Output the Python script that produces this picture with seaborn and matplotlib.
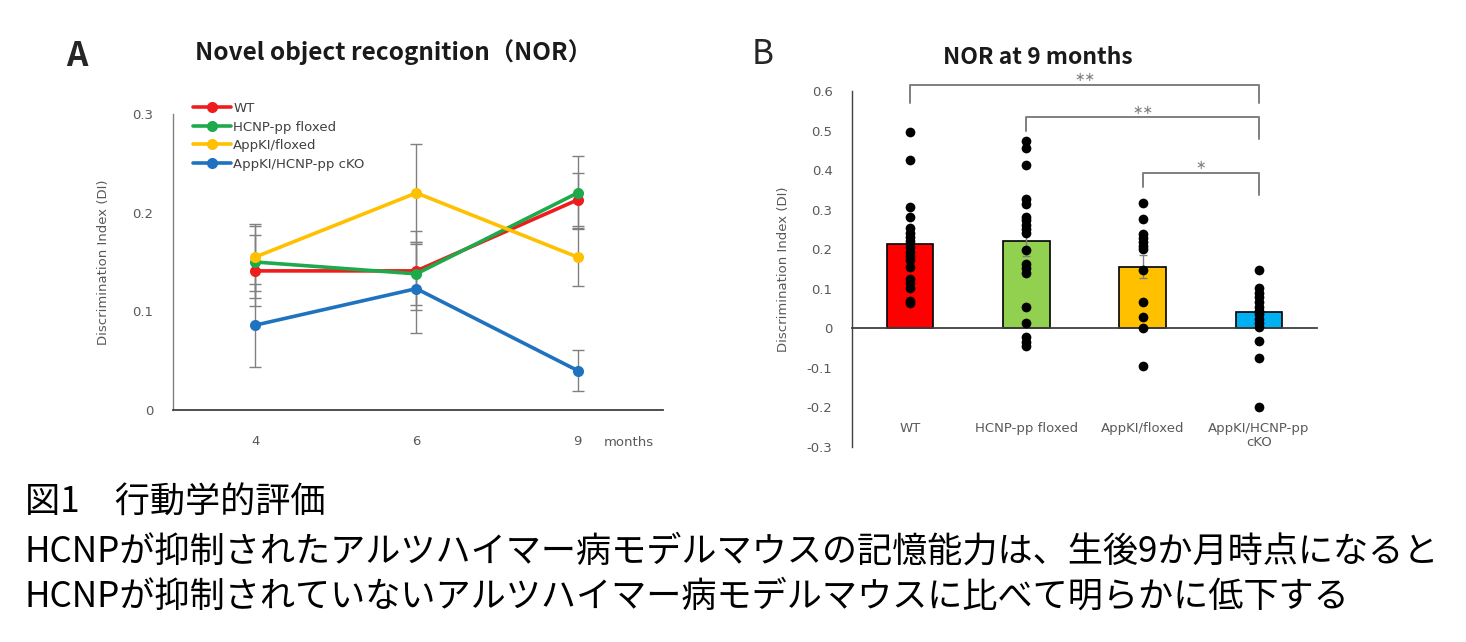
import numpy as np
import pandas as pd
import matplotlib
matplotlib.use("Agg")
import matplotlib.pyplot as plt
import seaborn as sns

# ---------------- data ----------------
months = ["4", "6", "9"]
groups_a = ["WT", "HCNP-pp floxed", "AppKI/floxed", "AppKI/HCNP-pp cKO"]
mean_wt = [0.141, 0.141, 0.213]
mean_hcnp = [0.150, 0.138, 0.220]
mean_appki = [0.155, 0.220, 0.155]
mean_cko = [0.086, 0.123, 0.040]
sem_wt = [0.036, 0.040, 0.027]
sem_hcnp = [0.036, 0.032, 0.037]
sem_appki = [0.034, 0.050, 0.029]
sem_cko = [0.042, 0.045, 0.021]

groups_b = ["WT", "HCNP-pp floxed", "AppKI/floxed", "AppKI/HCNP-pp\ncKO"]
bar_means = [0.213, 0.220, 0.156, 0.041]
bar_sems = [0.027, 0.037, 0.029, 0.021]
dots_wt = [0.498, 0.425, 0.308, 0.281, 0.253, 0.242, 0.232, 0.220, 0.207, 0.194,
           0.184, 0.173, 0.154, 0.125, 0.114, 0.101, 0.069, 0.065]
dots_hcnp = [0.473, 0.456, 0.414, 0.327, 0.315, 0.283, 0.273, 0.262, 0.251, 0.241,
             0.197, 0.163, 0.152, 0.139, 0.053, 0.014, -0.023, -0.034, -0.045]
dots_appki = [0.316, 0.276, 0.239, 0.229, 0.218, 0.208, 0.201, 0.148, 0.066, 0.028,
              0.000, -0.096]
dots_cko = [0.148, 0.101, 0.089, 0.078, 0.066, 0.055, 0.045, 0.035, 0.024, 0.013,
            0.003, -0.031, -0.076, -0.200]

line_colors = ["#EE1C1C", "#1DAA4C", "#FFC000", "#1F72C0"]
bar_colors = ["#FF0000", "#92D050", "#FFC000", "#00B0F0"]
caption = ["図1　行動学的評価",
           "HCNPが抑制されたアルツハイマー病モデルマウスの記憶能力は、生後9か月時点になると",
           "HCNPが抑制されていないアルツハイマー病モデルマウスに比べて明らかに低下する"]

# ---------------- style ----------------
sns.set_style("white")
plt.rcParams["font.family"] = ["DejaVu Sans", "Noto Sans CJK JP"]
CJK = ["Noto Sans CJK JP", "DejaVu Sans"]
GRAY = "#595959"

W, H = 1466, 642
fig = plt.figure(figsize=(W / 100, H / 100), dpi=100)

def frac(x0, y0, x1, y1):
    return [x0 / W, 1 - y1 / H, (x1 - x0) / W, (y1 - y0) / H]

# ---------------- panel A ----------------
axA = fig.add_axes(frac(173, 114, 663, 410))
means_a = [mean_wt, mean_hcnp, mean_appki, mean_cko]
sems_a = [sem_wt, sem_hcnp, sem_appki, sem_cko]
dfA = pd.DataFrame({
    "month": months * 4,
    "DI": sum(means_a, []),
    "group": [g for g in groups_a for _ in months],
})
for m, s in zip(means_a, sems_a):
    axA.errorbar(range(len(months)), m, yerr=s, fmt="none", ecolor="#808080",
                 elinewidth=1.0, capsize=4, capthick=1.0, zorder=1)
sns.pointplot(data=dfA, x="month", y="DI", hue="group", order=months,
              hue_order=groups_a, palette=line_colors, errorbar=None,
              markers="o", linewidth=2.6, markersize=6, ax=axA, zorder=3)
axA.set_xlim(-0.51, 2.53)
axA.set_ylim(0, 0.3)
axA.set_yticks([0, 0.1, 0.2, 0.3])
axA.set_yticklabels(["0", "0.1", "0.2", "0.3"])
axA.tick_params(axis="both", length=0, labelsize=9.5, labelcolor=GRAY)
axA.tick_params(axis="x", pad=18)
axA.tick_params(axis="y", pad=14)
axA.set_xlabel("")
axA.set_ylabel("Discrimination Index (DI)", fontsize=9.5, color=GRAY, labelpad=16)
for sp in ["top", "right"]:
    axA.spines[sp].set_visible(False)
axA.spines["left"].set_color("#808080")
axA.spines["bottom"].set_color("#404040")
axA.spines["left"].set_linewidth(1.0)
axA.spines["bottom"].set_linewidth(1.3)
handles, labels = axA.get_legend_handles_labels()
axA.legend(handles, labels, loc="upper left", bbox_to_anchor=(193 / W, 1 - 102 / H),
           bbox_transform=fig.transFigure, frameon=False, fontsize=9.5,
           handlelength=2.9, handletextpad=0.15, labelspacing=0.42, borderpad=0,
           borderaxespad=0, labelcolor="#404040")
fig.text(604 / W, 1 - 442 / H, "months", fontsize=9.5, color=GRAY, va="center", ha="left")
fig.text(393 / W, 1 - 52 / H, "Novel object recognition（NOR）", fontsize=17.5,
         fontweight="bold", ha="center", va="center", color="#1a1a1a", family=CJK)
fig.text(66 / W, 1 - 56 / H, "A", fontsize=24, fontweight="bold", ha="left",
         va="center", family=CJK)

# ---------------- panel B ----------------
axB = fig.add_axes(frac(852, 91.3, 1317, 446.8))
dfB = pd.DataFrame({"group": groups_b, "DI": bar_means})
sns.barplot(data=dfB, x="group", y="DI", hue="group", order=groups_b,
            hue_order=groups_b, palette=bar_colors, saturation=1, edgecolor="black",
            linewidth=1.2, width=0.40, errorbar=None, legend=False, ax=axB, zorder=2)
axB.errorbar(range(len(groups_b)), bar_means, yerr=bar_sems, fmt="none",
             ecolor="#808080", elinewidth=1.0, capsize=3, zorder=2.5)
all_dots = [dots_wt, dots_hcnp, dots_appki, dots_cko]
dfDots = pd.DataFrame({
    "group": [g for g, d in zip(groups_b, all_dots) for _ in d],
    "DI": sum(all_dots, []),
})
sns.stripplot(data=dfDots, x="group", y="DI", order=groups_b, color="black",
              jitter=False, size=7, ax=axB, zorder=4)
axB.set_xlim(-0.5, 3.5)
axB.set_ylim(-0.3, 0.6)
yt = [-0.3, -0.2, -0.1, 0, 0.1, 0.2, 0.3, 0.4, 0.5, 0.6]
axB.set_yticks(yt)
axB.set_yticklabels(["0" if v == 0 else f"{v:.1f}" for v in yt])
axB.tick_params(axis="y", length=0, labelsize=9.5, labelcolor=GRAY, pad=14)
axB.set_xticks([])
axB.set_xlabel("")
axB.set_ylabel("Discrimination Index (DI)", fontsize=9.5, color=GRAY, labelpad=12)
for sp in ["top", "right"]:
    axB.spines[sp].set_visible(False)
axB.spines["bottom"].set_position(("data", 0))
axB.spines["bottom"].set_color("#404040")
axB.spines["left"].set_color("#404040")
axB.spines["bottom"].set_linewidth(1.3)
axB.spines["left"].set_linewidth(1.0)
for i, g in enumerate(groups_b):
    axB.text(i, -0.237, g, ha="center", va="top", fontsize=9.5, color=GRAY,
             linespacing=1.15)

# significance brackets
brackets = [(0, 3, 0.617, 0.570, 0.570, "∗∗"),
            (1, 3, 0.534, 0.500, 0.478, "∗∗"),
            (2, 3, 0.393, 0.357, 0.338, "∗")]
for x0, x1, ytop, yl, yr, star in brackets:
    axB.plot([x0, x0, x1, x1], [yl, ytop, ytop, yr], color="#7f7f7f", lw=1.4,
             clip_on=False, zorder=3)
    axB.text((x0 + x1) / 2, ytop + 0.018, star, ha="center", va="center",
             fontsize=9, color="#7f7f7f", clip_on=False)
fig.text(1038 / W, 1 - 57 / H, "NOR at 9 months", fontsize=16.5, fontweight="bold",
         ha="center", va="center", color="#1a1a1a", family=CJK)
fig.text(752 / W, 1 - 54 / H, "B", fontsize=24, ha="left", va="center", family=CJK)

# ---------------- caption ----------------
for txt, yc in zip(caption, [503, 552, 597]):
    fig.text(25 / W, 1 - yc / H, txt, fontsize=25.3, ha="left", va="center",
             color="black", family=CJK)

fig.savefig("out.png", dpi=100, facecolor="white")
